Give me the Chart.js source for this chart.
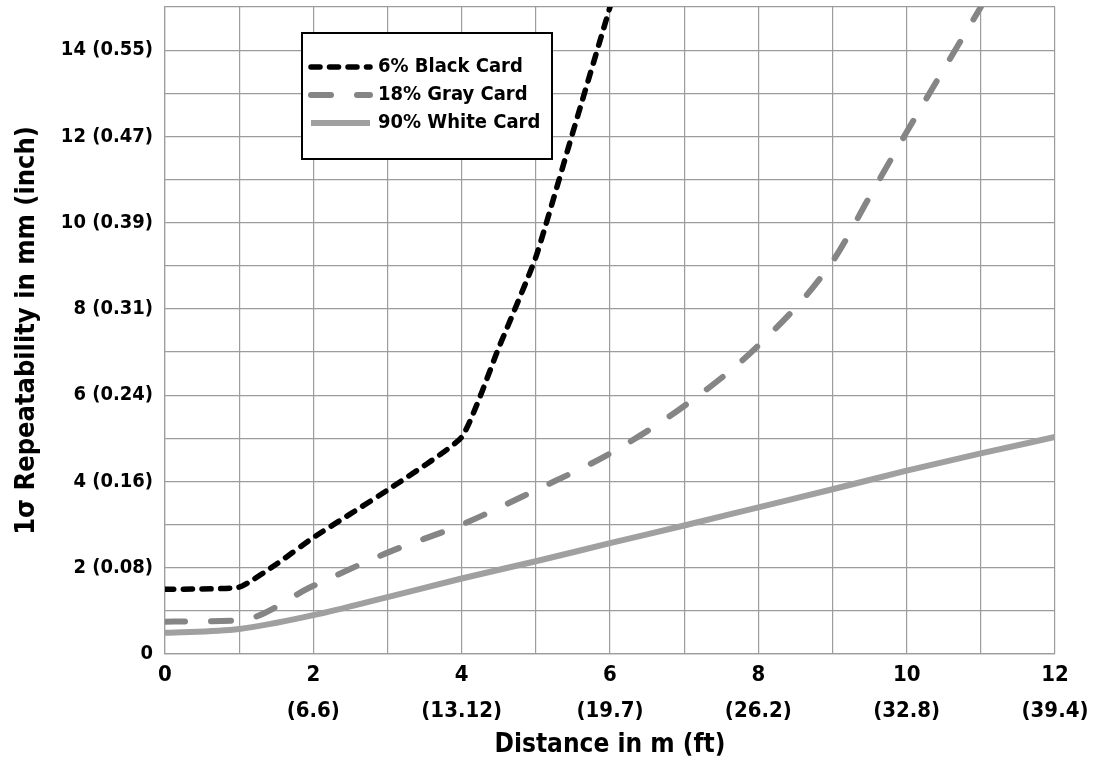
<!DOCTYPE html>
<html>
<head>
<meta charset="utf-8">
<script src="https://cdn.jsdelivr.net/npm/chart.js@4/dist/chart.umd.min.js"></script>
<style>
  body { margin: 0; background: #fff; }
  #wrap { width: 1093px; height: 769px; }
</style>
</head>
<body>
<div id="wrap"><canvas id="chart"></canvas></div>
<script>
// distances in m, repeatability in mm
const blackDistance = [0, 1, 1.5, 2, 3, 4, 4.5, 5, 5.5, 6];
const blackCard = [1.5, 1.55, 2.08, 2.7, 3.8, 5.03, 7.1, 9.2, 12.1, 15];

const grayDistance = [0, 1, 2, 3, 4, 5, 6, 7, 8, 9, 9.5, 10, 11];
const grayCard = [0.75, 0.78, 1.58, 2.35, 3.0, 3.8, 4.65, 5.75, 7.15, 9.1, 10.6, 12.1, 15];

const whiteDistance = [0, 1, 2, 3, 4, 5, 6, 7, 8, 9, 10, 11, 12];
const whiteCard = [0.49, 0.58, 0.9, 1.32, 1.75, 2.15, 2.57, 2.98, 3.4, 3.82, 4.25, 4.65, 5.03];

// tick labels (every 2 units)
const xTickMeters = ["0", "2", "4", "6", "8", "10", "12"];
const xTickFeet = ["", "(6.6)", "(13.12)", "(19.7)", "(26.2)", "(32.8)", "(39.4)"];
const yTickLabels = ["0", "2 (0.08)", "4 (0.16)", "6 (0.24)", "8 (0.31)", "10 (0.39)", "12 (0.47)", "14 (0.55)"];

const toPoints = (xs, ys) => xs.map((x, i) => ({ x: x, y: ys[i] }));

const fontStack = "'Liberation Sans Narrow', 'DejaVu Sans Condensed', sans-serif";
Chart.defaults.font.family = fontStack;
Chart.defaults.font.weight = "bold";
Chart.defaults.color = "#000";

const gridColor = "#9c9c9c";

// legend box drawn inside the plot, like the original
const boxLegend = {
  id: "boxLegend",
  afterDraw(chart) {
    const ctx = chart.ctx;
    const x = 302, y = 33, w = 250, h = 126;
    ctx.save();
    ctx.fillStyle = "#fff";
    ctx.fillRect(x, y, w, h);
    ctx.lineWidth = 2;
    ctx.strokeStyle = "#000";
    ctx.strokeRect(x, y, w, h);
    ctx.font = "bold 20px " + fontStack;
    ctx.textBaseline = "middle";
    chart.data.datasets.forEach((ds, i) => {
      const rowY = 67 + i * 28;
      ctx.beginPath();
      ctx.setLineDash(ds.borderDash || []);
      ctx.lineCap = ds.borderCapStyle || "butt";
      ctx.lineWidth = ds.borderWidth;
      ctx.strokeStyle = ds.borderColor;
      ctx.moveTo(311, rowY);
      ctx.lineTo(370, rowY);
      ctx.stroke();
      ctx.setLineDash([]);
      ctx.fillStyle = "#000";
      ctx.fillText(ds.label, 378, rowY);
    });
    ctx.restore();
  }
};

new Chart(document.getElementById("chart"), {
  type: "line",
  data: {
    datasets: [
      {
        label: "6% Black Card",
        data: toPoints(blackDistance, blackCard),
        borderColor: "#000",
        borderWidth: 5.5,
        borderDash: [9, 9.5],
        borderCapStyle: "round",
        borderJoinStyle: "round",
        pointRadius: 0,
        tension: 0.15,
      },
      {
        label: "18% Gray Card",
        data: toPoints(grayDistance, grayCard),
        borderColor: "#858585",
        borderWidth: 6,
        borderDash: [20, 26],
        borderCapStyle: "round",
        pointRadius: 0,
        cubicInterpolationMode: "monotone",
      },
      {
        label: "90% White Card",
        data: toPoints(whiteDistance, whiteCard),
        borderColor: "#a0a0a0",
        borderWidth: 6,
        pointRadius: 0,
        cubicInterpolationMode: "monotone",
      },
    ],
  },
  options: {
    responsive: true,
    maintainAspectRatio: false,
    animation: false,
    layout: {
      padding: { left: 0, top: 7, right: 38, bottom: 0 },
    },
    plugins: {
      legend: { display: false },
      tooltip: { enabled: false },
    },
    scales: {
      x: {
        type: "linear",
        min: 0,
        max: 12,
        afterFit: (scale) => {
          scale.height = 115;
          scale.paddingLeft = 0;
          scale.paddingRight = 0;
        },
        grid: { color: gridColor, lineWidth: 1.2, drawTicks: false },
        border: { color: gridColor, width: 1.2 },
        ticks: {
          stepSize: 1,
          padding: 4,
          maxRotation: 0,
          autoSkip: false,
          font: { size: 22, lineHeight: 1.6 },
          callback: (v) => {
            if (v % 2 !== 0) return "";
            const i = v / 2;
            return xTickFeet[i] ? [xTickMeters[i], xTickFeet[i]] : xTickMeters[i];
          },
        },
        title: {
          display: true,
          text: "Distance in m (ft)",
          font: { size: 26 },
          padding: { top: 0, bottom: 8 },
        },
      },
      y: {
        min: 0,
        max: 15,
        afterFit: (scale) => {
          scale.width = 165;
          scale.paddingTop = 0;
          scale.paddingBottom = 0;
        },
        grid: { color: gridColor, lineWidth: 1.2, drawTicks: false },
        border: { color: gridColor, width: 1.2 },
        ticks: {
          stepSize: 1,
          padding: 12,
          autoSkip: false,
          font: { size: 20 },
          callback: (v) => (v % 2 === 0 ? yTickLabels[v / 2] : ""),
        },
        title: {
          display: true,
          text: "1σ Repeatability in mm (inch)",
          font: { size: 27 },
          padding: { top: 11, bottom: 0 },
        },
      },
    },
  },
  plugins: [boxLegend],
});
</script>
</body>
</html>
